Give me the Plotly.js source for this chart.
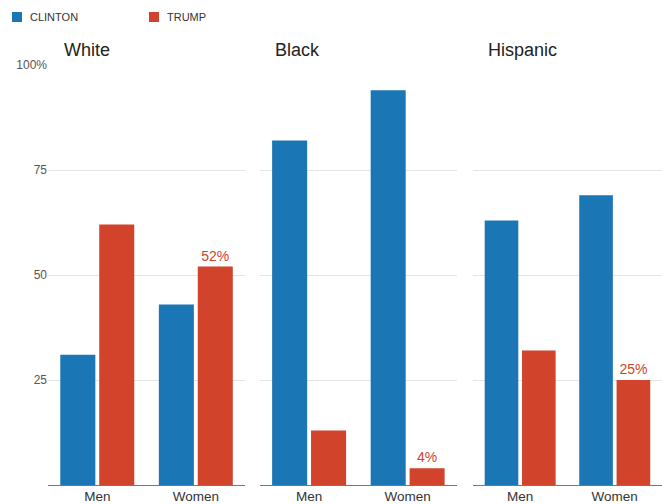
<!DOCTYPE html>
<html><head><meta charset="utf-8">
<script src="https://cdn.plot.ly/plotly-3.0.1.min.js"></script>
<style>html,body{margin:0;padding:0;background:#fff}#c{width:662px;height:504px}</style>
</head><body><div id="c"></div>
<script>
const categories = ['Men', 'Women'];
const groups = ['White', 'Black', 'Hispanic'];
const clintonWhite = [31, 43];
const trumpWhite = [62, 52];
const clintonBlack = [82, 94];
const trumpBlack = [13, 4];
const clintonHispanic = [63, 69];
const trumpHispanic = [32, 25];
const seriesNames = ['CLINTON', 'TRUMP'];
const yTickVals = [25, 50, 75, 100];
const yTickText = ['25', '50', '75', '100%'];

const BLUE = '#1b76b6', RED = '#d1432b';
const colors = [BLUE, RED];
const clintonAll = [clintonWhite, clintonBlack, clintonHispanic];
const trumpAll = [trumpWhite, trumpBlack, trumpHispanic];
const FONT = 'Liberation Sans, Arial, sans-serif';
const data = [];
groups.forEach((g, i) => {
  const sx = i === 0 ? '' : String(i + 1);
  data.push({type: 'bar', name: seriesNames[0], x: categories, y: clintonAll[i], xaxis: 'x' + sx, yaxis: 'y' + sx,
    marker: {color: BLUE}, showlegend: false});
  data.push({type: 'bar', name: seriesNames[1], x: categories, y: trumpAll[i], xaxis: 'x' + sx, yaxis: 'y' + sx,
    marker: {color: RED}, showlegend: false,
    text: trumpAll[i].map((v, k) => k === 1 ? v + '%' : ''), textposition: 'outside',
    outsidetextfont: {color: RED, size: 14, family: FONT}, cliponaxis: false});
});

// custom legend (paper coordinates, margin l=48 → plot width 614, plot height 420)
const W = 614, H = 420, L = 48, T = 65;
const px = x => (x - L) / W, py = y => 1 + (T - y) / H;
const legendX = [12, 149];
const shapes = seriesNames.map((n, i) => ({type: 'rect', xref: 'paper', yref: 'paper',
  x0: px(legendX[i]), x1: px(legendX[i] + 10), y0: py(22), y1: py(12), fillcolor: colors[i], line: {width: 0}}));
const annotations = seriesNames.map((n, i) => ({text: n, xref: 'paper', yref: 'paper', x: px(legendX[i] + 16), y: py(17),
  xanchor: 'left', yanchor: 'middle', showarrow: false, font: {size: 11, color: '#333', family: FONT}}));
groups.forEach((g, i) => annotations.push({
  text: g, xref: 'paper', yref: 'paper', x: [0.022, 0.366, 0.713][i], y: py(50),
  xanchor: 'left', yanchor: 'middle', showarrow: false, font: {size: 18, color: '#222', family: FONT}
}));

const domains = [[0, 0.321], [0.345, 0.666], [0.692, 1.0]];
const layout = {
  width: 662, height: 504,
  margin: {l: L, r: 0, t: T, b: 19},
  paper_bgcolor: '#fff', plot_bgcolor: '#fff',
  font: {family: FONT, color: '#333'},
  barmode: 'group', bargap: 0.21, bargroupgap: 0.1,
  showlegend: false,
  shapes, annotations,
  hovermode: false
};
groups.forEach((g, i) => {
  const sx = i === 0 ? '' : String(i + 1);
  layout['xaxis' + sx] = {domain: domains[i], anchor: 'y' + sx, showline: true, linecolor: '#777', linewidth: 1,
    showgrid: false, ticks: '', tickfont: {size: 13.5, color: '#333'}, fixedrange: true, ticklabelstandoff: -1};
  layout['yaxis' + sx] = {domain: [0, 1], anchor: 'x' + sx, range: [0, 100], tickvals: yTickVals, ticktext: yTickText,
    showticklabels: i === 0, showgrid: true, gridcolor: '#e4e4e4', gridwidth: 1, zeroline: false, showline: false,
    tickfont: {size: 12, color: '#555'}, ticks: '', fixedrange: true};
});
Plotly.newPlot('c', data, layout, {displayModeBar: false, staticPlot: true});
</script></body></html>
